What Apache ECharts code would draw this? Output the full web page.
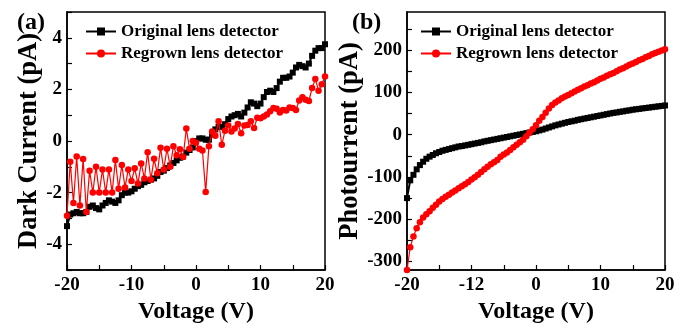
<!DOCTYPE html>
<html>
<head>
<meta charset="utf-8">
<script src="https://cdn.jsdelivr.net/npm/echarts@6/dist/echarts.min.js"></script>
<style>
html, body { margin: 0; padding: 0; background: #fff; }
#chart { width: 683px; height: 329px; }
</style>
</head>
<body>
<div id="chart"></div>
<script>
// ----------- 数据 -----------
var voltage = [
    -20, -19.5, -19, -18.5, -18, -17.5, -17, -16.5, -16, -15.5,
    -15, -14.5, -14, -13.5, -13, -12.5, -12, -11.5, -11, -10.5,
    -10, -9.5, -9, -8.5, -8, -7.5, -7, -6.5, -6, -5.5,
    -5, -4.5, -4, -3.5, -3, -2.5, -2, -1.5, -1, -0.5,
    0, 0.5, 1, 1.5, 2, 2.5, 3, 3.5, 4, 4.5,
    5, 5.5, 6, 6.5, 7, 7.5, 8, 8.5, 9, 9.5,
    10, 10.5, 11, 11.5, 12, 12.5, 13, 13.5, 14, 14.5,
    15, 15.5, 16, 16.5, 17, 17.5, 18, 18.5, 19, 19.5,
    20
]

// (a) 暗电流 pA
var dark_original = [
    -3.3, -2.85, -2.8, -2.75, -2.8, -2.8, -2.75, -2.55, -2.5, -2.6,
    -2.65, -2.5, -2.4, -2.3, -2.35, -2.4, -2.3, -2.1, -2.0, -2.0,
    -1.95, -1.85, -1.75, -1.7, -1.6, -1.55, -1.5, -1.45, -1.35, -1.2,
    -1.15, -1.05, -0.95, -0.85, -0.75, -0.65, -0.6, -0.45, -0.35, -0.25,
    0.0, 0.1, 0.1, 0.05, 0.05, 0.25, 0.45, 0.55, 0.55, 0.65,
    0.85, 0.95, 1.0, 1.05, 0.95, 1.1, 1.3, 1.5, 1.45, 1.35,
    1.45, 1.7, 1.9, 1.95, 1.9, 2.05, 2.3, 2.45, 2.45, 2.5,
    2.65, 2.85, 2.95, 2.9, 2.85, 3.0, 3.3, 3.5, 3.6, 3.6,
    3.75
]
var dark_regrown = [
    -2.9, -0.8, -2.4, -0.6, -2.5, -0.7, -2.75, -1.15, -2.0, -1.0,
    -2.0, -1.1, -2.0, -1.1, -2.0, -0.74, -1.85, -0.93, -1.8, -1.1,
    -1.55, -1.06, -1.65, -0.87, -1.45, -0.44, -1.5, -0.69, -1.25, -0.26,
    -1.1, -0.3, -1.0, -0.2, -0.55, -0.32, -0.62, 0.48, -0.3, 0.0,
    -0.07, -0.3, -0.37, -1.98, -0.2, 0.37, 0.2, 0.77, -0.15, 0.4,
    0.6, 0.37, 0.48, 0.66, 0.3, 0.6, 0.62, 0.77, 0.5, 0.9,
    0.88, 0.95, 1.03, 1.15, 1.28, 1.25, 1.1, 1.2, 1.18, 1.3,
    1.28, 1.2, 1.57, 1.7, 1.6, 1.55, 2.05, 2.4, 1.95, 2.2,
    2.5
]

// (b) 光电流 pA
var photo_original = [
    -150, -108, -95, -82, -72, -64, -57, -52, -48, -44,
    -41, -38, -36, -34, -32, -30, -28, -27, -25.5, -24,
    -22.5, -21, -19.5, -18, -16, -14.5, -13, -11.5, -10, -8.5,
    -7, -5.5, -4, -2.5, -1, 0.5, 2, 3.5, 5, 6.5,
    8, 10, 12, 14.5, 17, 19.5, 22, 24, 26, 28,
    30, 31.5, 33, 35, 36.5, 38, 39.5, 41, 42.5, 44,
    45.5, 47, 48.5, 50, 51.5, 52.5, 54, 55, 56.5, 57.5,
    59, 60, 61, 62, 63, 64, 65, 66, 67, 68,
    69
]
var photo_regrown = [
    -320, -266, -241, -221, -207, -196, -188, -181, -173, -166,
    -158, -152, -147, -142, -137, -132, -127, -122, -117, -112,
    -106, -101, -95, -88, -82, -76, -70, -65, -60, -52,
    -47, -42, -36, -30, -24, -18, -12, -4, 5, 13,
    22, 33, 42, 52, 62, 70, 76, 81, 86, 90,
    94, 98, 102, 106, 110, 114, 117, 121, 124, 128,
    132, 135, 139, 143, 146, 150, 154, 157, 161, 165,
    168, 172, 176, 179, 183, 186, 190, 193, 196, 199,
    202
]

var series_names = ["Original lens detector", "Regrown lens detector"]
var x_labels_b = { "-20": "-20", "-10": "-12", "0": "0", "10": "10", "20": "20" }
var y_labels_b = [-300, -200, -100, 0, 100, 200]
var y_ticks_b = [-300, -250, -200, -150, -100, -50, 0, 50, 100, 150, 200, 250]

function zip(xs, ys) {
    return xs.map(function (x, i) { return [x, ys[i]] })
}

// 简单 extend
function extend(a, b) { for (var k in b) a[k] = b[k]; return a }

// ----------- 样式 -----------
var font = "Liberation Serif"
var label_style = { fontFamily: font, fontWeight: "bold", fontSize: 19, color: "#000" }
var name_style = { fontFamily: font, fontWeight: "bold", fontSize: 24, color: "#000" }
var y_name_style = { fontFamily: font, fontWeight: "bold", fontSize: 26.5, color: "#000" }
var axis_line = { show: true, onZero: false, lineStyle: { color: "#000", width: 1.5 } }
var tick_style = { inside: true, length: 5, lineStyle: { color: "#000", width: 1.2 } }

function x_axis(grid_index, formatter) {
    return {
        type: "value", gridIndex: grid_index,
        min: -20, max: 20, interval: 10,
        name: "Voltage (V)", nameLocation: "middle", nameGap: 30,
        nameTextStyle: name_style,
        axisLine: axis_line,
        axisTick: tick_style,
        minorTick: { show: true, splitNumber: 2, length: 5, lineStyle: { color: "#000", width: 1.2 } },
        splitLine: { show: false },
        axisLabel: extend({ margin: 6, formatter: formatter }, label_style)
    }
}

function legend_at(left) {
    return {
        left: left, top: 23, orient: "vertical", itemGap: 5, padding: 0,
        itemWidth: 30, itemHeight: 10,
        data: series_names,
        textStyle: { fontFamily: font, fontWeight: "bold", fontSize: 17, color: "#000" }
    }
}

var chart = echarts.init(document.getElementById("chart"))

var option = {
    animation: false,
    backgroundColor: "#fff",
    title: [
        { text: "(a)", left: 12, top: 6, textStyle: name_style },
        { text: "(b)", left: 347, top: 6, textStyle: name_style }
    ],
    legend: [legend_at(85), legend_at(420)],
    grid: [
        { left: 67, width: 258, top: 12, height: 271, show: true, borderColor: "#000", borderWidth: 1.5 },
        { left: 407, width: 258, top: 12, height: 271, show: true, borderColor: "#000", borderWidth: 1.5 }
    ],
    xAxis: [
        x_axis(0, function (v) { return String(v) }),
        x_axis(1, function (v) { return x_labels_b[String(v)] })
    ],
    yAxis: [
        {
            type: "value", gridIndex: 0,
            min: -5, max: 5, interval: 1,
            name: "Dark Current (pA)", nameLocation: "middle", nameGap: 21,
            nameTextStyle: y_name_style,
            axisLine: axis_line,
            axisTick: tick_style,
            splitLine: { show: false },
            axisLabel: extend({
                margin: 5,
                formatter: function (v) { return v % 2 === 0 && Math.abs(v) < 5 ? String(v) : "" }
            }, label_style)
        },
        {
            type: "value", gridIndex: 1,
            min: -320, max: 290,
            name: "Photourrent (pA)", nameLocation: "middle", nameGap: 39,
            nameTextStyle: y_name_style,
            axisLine: axis_line,
            axisTick: extend({ customValues: y_ticks_b }, tick_style),
            splitLine: { show: false },
            axisLabel: extend({ margin: 5, customValues: y_labels_b }, label_style)
        }
    ],
    series: [
        {
            name: series_names[0], type: "line", xAxisIndex: 0, yAxisIndex: 0,
            data: zip(voltage, dark_original),
            symbol: "rect", symbolSize: 6, z: 3,
            itemStyle: { color: "#000" },
            lineStyle: { color: "#000", width: 2 }
        },
        {
            name: series_names[1], type: "line", xAxisIndex: 0, yAxisIndex: 0,
            data: zip(voltage, dark_regrown),
            symbol: "circle", symbolSize: 6.5, z: 4,
            itemStyle: { color: "#ff0000" },
            lineStyle: { color: "#ff0000", width: 1.2 }
        },
        {
            name: series_names[0], type: "line", xAxisIndex: 1, yAxisIndex: 1,
            data: zip(voltage, photo_original),
            symbol: "rect", symbolSize: 6, z: 3,
            itemStyle: { color: "#000" },
            lineStyle: { color: "#000", width: 2 }
        },
        {
            name: series_names[1], type: "line", xAxisIndex: 1, yAxisIndex: 1,
            data: zip(voltage, photo_regrown),
            symbol: "circle", symbolSize: 6.5, z: 4,
            itemStyle: { color: "#ff0000" },
            lineStyle: { color: "#ff0000", width: 1.2 }
        }
    ]
}

chart.setOption(option)
</script>
</body>
</html>
